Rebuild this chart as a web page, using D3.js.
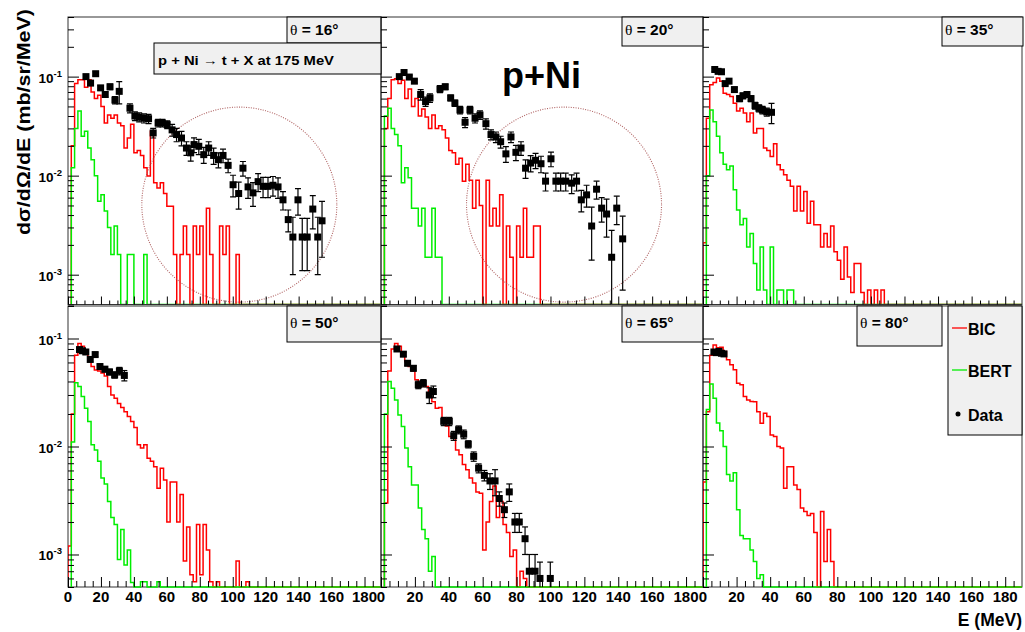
<!DOCTYPE html>
<html>
<head>
<meta charset="utf-8">
<script src="https://cdn.jsdelivr.net/npm/d3@7"></script>
<style>
  body { margin: 0; background: #fff; }
  text { font-family: "Liberation Sans", Arial, sans-serif; font-weight: bold; fill: #000; }
</style>
</head>
<body>
<svg id="chart" width="1025" height="632"></svg>
<script>
// ---- values ----
// model histograms: 2 MeV bins starting at E = 0
const bic16 = [0, 0.02, 0.085, 0.093, 0.093, 0.078, 0.093, 0.07, 0.06, 0.065, 0.05, 0.034, 0.041, 0.038, 0.041, 0.034,
  0.032, 0.019, 0.024, 0.033, 0.017, 0.018, 0.016, 0.012, 0.0099, 0.028, 0.0085, 0.0075, 0.0085, 0.0066, 0.0049, 0.0049,
  0.0016, 0, 0.0016, 0.0031, 0.0016, 0, 0.0031, 0.0016, 0.0031, 0, 0.0047, 0.0016, 0, 0, 0.0031, 0.0016, 0.0031, 0, 0, 0.0016];
const bert16 = [0, 0.012, 0.03, 0.045, 0.025, 0.028, 0.019, 0.0145, 0.01, 0.0055, 0.0064, 0.0044, 0.003, 0.0016, 0.0031,
  0.0016, 0, 0, 0.0016, 0.0016, 0, 0, 0, 0.0016];
const bic20 = [0, 0.03, 0.06, 0.093, 0.095, 0.085, 0.092, 0.06, 0.075, 0.05, 0.06, 0.04, 0.047, 0.039, 0.03, 0.041,
  0.03, 0.032, 0.029, 0.024, 0.018, 0.017, 0.013, 0.015, 0.0088, 0.013, 0.009, 0.0047, 0.009, 0.005, 0, 0.009,
  0.0031, 0.0047, 0.0031, 0.0064, 0, 0.0031, 0.0015, 0, 0.0031, 0.0015, 0.0047, 0.0015, 0.0015, 0.0031, 0.0031];
const bert20 = [0, 0.04, 0.048, 0.03, 0.026, 0.02, 0.0085, 0.012, 0.0095, 0.0047, 0.0047, 0.0031, 0.0047, 0.0015,
  0.0015, 0.0047, 0.0015, 0.0015];
const bic35 = [0.0021, 0.038, 0.083, 0.087, 0.097, 0.09, 0.068, 0.066, 0.063, 0.054, 0.045, 0.048, 0.043, 0.035, 0.043,
  0.027, 0.03, 0.03, 0.019, 0.018, 0.0156, 0.021, 0.0129, 0.0115, 0.0102, 0.009, 0.0078, 0.0044, 0.0078, 0.0044, 0.0069,
  0.0033, 0.0055, 0.0032, 0.0032, 0.0019, 0.0026, 0.0019, 0.0031, 0.0017, 0.0014, 0.0009, 0.0019, 0.00095, 0.00066,
  0.0013, 0.0013, 0.00066, 0, 0.0007, 0, 0.0007, 0, 0.0007];
const bert35 = [0, 0.01, 0.046, 0.035, 0.025, 0.017, 0.013, 0.0115, 0.0125, 0.0072, 0.0045, 0.0032, 0.0037, 0.0019,
  0.0026, 0.0013, 0.0007, 0.0019, 0.0007, 0, 0.0019, 0, 0.0007, 0.0007, 0, 0.0007, 0.0007];
const bic50 = [0.0012, 0.02, 0.07, 0.09, 0.085, 0.073, 0.062, 0.055, 0.051, 0.05, 0.048, 0.045, 0.036, 0.03, 0.028,
  0.025, 0.023, 0.021, 0.019, 0.017, 0.015, 0.0104, 0.0097, 0.0104, 0.0078, 0.0073, 0.0065, 0.0041, 0.0063, 0.0049,
  0.002, 0.0047, 0.0047, 0.002, 0.0036, 0.00087, 0.0018, 0.00065, 0.00056, 0.0019, 0.00065, 0.0019, 0.0011, 0.00056,
  0, 0.00056, 0, 0, 0, 0, 0, 0.00087, 0, 0, 0.00056];
const bert50 = [0, 0.011, 0.039, 0.036, 0.029, 0.0226, 0.017, 0.0104, 0.0093, 0.0073, 0.0051, 0.0045, 0.0031, 0.0022,
  0.0019, 0.0009, 0.0017, 0.0008, 0.0011, 0.00055, 0, 0, 0.00056, 0.00056, 0, 0, 0, 0.00056];
const bic65 = [0, 0.003, 0.05, 0.08, 0.09, 0.085, 0.07, 0.061, 0.055, 0.05, 0.0414, 0.036, 0.038, 0.036, 0.029, 0.026,
  0.0226, 0.023, 0.017, 0.0155, 0.0124, 0.0124, 0.0093, 0.0084, 0.0068, 0.0061, 0.0051, 0.0046, 0.0038, 0.0037,
  0.0011, 0.002, 0.0031, 0.0043, 0.0022, 0.0031, 0.0019, 0.0016, 0.00096, 0.0011, 0, 0.0007, 0.0006];
const bert65 = [0, 0.02, 0.04, 0.0347, 0.027, 0.0196, 0.0153, 0.0097, 0.0065, 0.0044, 0.0044, 0.0027, 0.0017, 0.0014,
  0.0007, 0.00096];
const bic80 = [0.0047, 0.021, 0.07, 0.087, 0.082, 0.083, 0.0758, 0.0635, 0.057, 0.0513, 0.0386, 0.0373, 0.029, 0.027,
  0.0261, 0.026, 0.021, 0.0164, 0.0203, 0.019, 0.0128, 0.0124, 0.01, 0.0097, 0.0041, 0.0065, 0.0065, 0.0044, 0.004,
  0.0027, 0.0025, 0.0023, 0.0024, 0.0016, 0, 0.0025, 0.00086, 0.0017, 0.00086];
const bert80 = [0, 0.022, 0.038, 0.028, 0.0165, 0.014, 0.01, 0.0055, 0.0048, 0.0057, 0.0026, 0.0015, 0.0014, 0.0014,
  0.0011, 0.00086, 0.0006, 0.00065];

// measured points: energy (MeV), cross section, error
const e16 = [10.9, 13.7, 16.8, 19.8, 22.6, 25.5, 28.5, 31.1, 37.6, 40.6, 43.2, 46.1, 48.9, 51.7, 54.7, 57.3, 60.2, 63.2,
  65.9, 68.9, 71.9, 74.5, 76.5, 79.4, 82.4, 85.4, 88.4, 91.3, 94.1, 97.2, 100.2, 103.6, 106.2, 109.3, 112.3, 115.4,
  118.4, 121.4, 124.4, 127.5, 130.5, 133.7, 136.5, 139.6, 142.2, 145.2, 148.6, 151.6, 154.2];
const v16 = [0.1, 0.086, 0.107, 0.077, 0.066, 0.079, 0.058, 0.071, 0.048, 0.04, 0.039, 0.038, 0.0376, 0.027, 0.034,
  0.034, 0.0328, 0.029, 0.026, 0.024, 0.019, 0.017, 0.0206, 0.0198, 0.0163, 0.019, 0.016, 0.0145, 0.016, 0.0127, 0.0081,
  0.0066, 0.0119, 0.0077, 0.0067, 0.0087, 0.0078, 0.0078, 0.008, 0.0077, 0.0057, 0.0036, 0.0024, 0.0057, 0.0024, 0.0024,
  0.0046, 0.0024, 0.0035];
const err16 = [0.004, 0.004, 0.005, 0.004, 0.004, 0.005, 0.005, 0.018, 0.005, 0.004, 0.004, 0.004, 0.004, 0.003, 0.003,
  0.003, 0.003, 0.004, 0.004, 0.004, 0.003, 0.003, 0.0035, 0.0035, 0.003, 0.003, 0.003, 0.0025, 0.0025, 0.002, 0.002,
  0.002, 0.002, 0.0018, 0.0018, 0.0018, 0.0018, 0.0018, 0.0018, 0.0018, 0.0012, 0.0009, 0.0014, 0.0017, 0.0013, 0.0013,
  0.0017, 0.0014, 0.002];
const e20 = [10.8, 13.6, 16.7, 19.7, 23.4, 26.3, 28.9, 34.8, 37.9, 41.1, 43.6, 46.6, 49.6, 52.5, 55.5, 58.4, 61.9, 64.9,
  67.8, 70.6, 73.7, 76.7, 79.6, 82.6, 85.3, 88.3, 91.2, 94.4, 97.1, 100.3, 103.2, 106, 109, 112.5, 115.4, 118.2, 121.3,
  124.3, 127.2, 130.2, 133.1, 136.1, 139.1, 142.6];
const v20 = [0.1, 0.11, 0.099, 0.09, 0.066, 0.056, 0.061, 0.075, 0.079, 0.061, 0.054, 0.046, 0.0346, 0.046, 0.038,
  0.041, 0.0335, 0.026, 0.0246, 0.022, 0.0166, 0.0246, 0.0172, 0.019, 0.0119, 0.0134, 0.0143, 0.0132, 0.0088, 0.0148,
  0.0088, 0.0088, 0.0088, 0.0084, 0.0088, 0.0057, 0.0064, 0.0031, 0.0073, 0.0047, 0.0041, 0.0015, 0.0047, 0.0023];
const err20 = [0.004, 0.004, 0.004, 0.004, 0.008, 0.006, 0.006, 0.006, 0.005, 0.004, 0.004, 0.004, 0.004, 0.004, 0.004,
  0.004, 0.004, 0.003, 0.003, 0.003, 0.003, 0.003, 0.003, 0.003, 0.0025, 0.0025, 0.0025, 0.0025, 0.0018, 0.0025, 0.0018,
  0.0018, 0.0018, 0.0018, 0.0018, 0.0014, 0.0016, 0.0017, 0.0015, 0.0013, 0.0017, 0.0013, 0.0015, 0.0016];
const e35 = [7, 9, 11, 13.2, 15.5, 18.7, 21.8, 23.8, 26.2, 28.6, 31, 33.3, 35.4, 38, 40.8];
const v35 = [0.118, 0.113, 0.112, 0.085, 0.09, 0.074, 0.06, 0.064, 0.066, 0.06, 0.051, 0.048, 0.046, 0.044, 0.0436];
const err35 = [0.004, 0.004, 0.004, 0.004, 0.004, 0.004, 0.004, 0.004, 0.004, 0.004, 0.004, 0.004, 0.004, 0.004, 0.01];
const e50 = [7, 8.8, 10.8, 13.5, 16.5, 19.4, 22.4, 25.2, 28.3, 31.2, 34.2];
const v50 = [0.079, 0.077, 0.075, 0.064, 0.071, 0.055, 0.052, 0.049, 0.046, 0.05, 0.0455];
const err50 = [0.003, 0.003, 0.003, 0.003, 0.003, 0.003, 0.003, 0.003, 0.003, 0.004, 0.005];
const e65 = [9.4, 13.2, 15.7, 19.1, 22, 25, 28.5, 30.9, 37, 40.3, 42.9, 45.8, 48.8, 51.5, 54.7, 57.6, 61, 64.3, 67.3,
  69.8, 72.8, 75.7, 79, 81.6, 85, 87.5, 90.9, 93.8, 99.9];
const v65 = [0.08, 0.0716, 0.059, 0.053, 0.0373, 0.0386, 0.03, 0.0323, 0.0171, 0.0171, 0.0126, 0.0143, 0.013, 0.0105,
  0.0081, 0.0063, 0.0054, 0.0048, 0.0048, 0.0033, 0.0026, 0.0038, 0.002, 0.002, 0.0014, 0.0007, 0.0007, 0.0006, 0.0006];
const err65 = [0.003, 0.003, 0.003, 0.003, 0.003, 0.003, 0.005, 0.004, 0.0015, 0.0015, 0.0012, 0.0012, 0.0012, 0.0008,
  0.0008, 0.0006, 0.0006, 0.0008, 0.0013, 0.0005, 0.0004, 0.0007, 0.0004, 0.0004, 0.0004, 0.0003, 0.0003, 0.00025, 0.00025];
const e80 = [6.5, 8, 9.5, 11, 12.5];
const v80 = [0.075, 0.074, 0.076, 0.073, 0.072];
const err80 = [0.002, 0.002, 0.002, 0.002, 0.002];

const angles = [16, 20, 35, 50, 65, 80];
const xTickLabels = [0, 20, 40, 60, 80, 100, 120, 140, 160, 180];
const yDecades = [1e-3, 1e-2, 1e-1];
const yDecadeExp = ['-3', '-2', '-1'];
const legendNames = ['BIC', 'BERT', 'Data'];
const reaction = 'p + Ni \u2192 t + X at 175 MeV';
// dotted rings drawn on the first two panels, centre in (E, dσ/dΩ/dE)
const rings = [{panel: 0, e: 104, v: 0.0051}, {panel: 1, e: 108, v: 0.0051}];

// ---- layout ----
const binW = 2, eMax = 190;
const cols = [[68, 381], [381, 703], [703, 1022]];
const rows = [
  {top: 17, bottom: 304.5, domain: [5e-4, 0.4], major: 8, minor: 4},
  {top: 306, bottom: 587, domain: [5e-4, 0.2], major: 10, minor: 6}
];
const boxes = [[287, 17, 94, 26], [622, 17, 81, 29], [942, 17, 81, 29],
               [287, 306, 94, 36], [622, 306, 81, 36], [857, 306, 85, 40]];

const series = [
  {bic: bic16, bert: bert16, e: e16, v: v16, err: err16},
  {bic: bic20, bert: bert20, e: e20, v: v20, err: err20},
  {bic: bic35, bert: bert35, e: e35, v: v35, err: err35},
  {bic: bic50, bert: bert50, e: e50, v: v50, err: err50},
  {bic: bic65, bert: bert65, e: e65, v: v65, err: err65},
  {bic: bic80, bert: bert80, e: e80, v: v80, err: err80}
];

const svg = d3.select('#chart');
const defs = svg.append('defs');

function stepPoints(bins) {
  const first = bins.findIndex(v => v > 0);
  const pts = [[first * binW, 0]];
  for (let i = first; i < bins.length; i++) {
    pts.push([i * binW, bins[i]], [(i + 1) * binW, bins[i]]);
  }
  pts.push([bins.length * binW, 0], [eMax, 0]);
  return pts;
}

series.forEach((s, i) => {
  const row = rows[Math.floor(i / 3)];
  const col = cols[i % 3];
  const x = d3.scaleLinear().domain([0, eMax]).range(col);
  const y = d3.scaleLog().domain(row.domain).range([row.bottom, row.top]);
  const yPos = v => (v > row.domain[0] ? y(v) : row.bottom);
  const isTop = i < 3;

  defs.append('clipPath').attr('id', 'clip' + i)
    .append('rect').attr('x', col[0]).attr('y', row.top)
    .attr('width', col[1] - col[0]).attr('height', row.bottom - row.top + 1);

  const frame = () => svg.append('rect')
    .attr('x', col[0]).attr('y', row.top)
    .attr('width', col[1] - col[0]).attr('height', row.bottom - row.top)
    .attr('fill', 'none').attr('stroke', '#333').attr('stroke-width', 1);

  if (!isTop) frame();

  const g = svg.append('g').attr('clip-path', `url(#clip${i})`);
  const line = d3.line().x(d => x(d[0])).y(d => yPos(d[1]));

  g.append('path').attr('d', line(stepPoints(s.bic)))
    .attr('fill', 'none').attr('stroke', '#ff0000').attr('stroke-width', 1.5);
  g.append('path').attr('d', line(stepPoints(s.bert)))
    .attr('fill', 'none').attr('stroke', '#00ee00').attr('stroke-width', 1.5);

  rings.filter(r => r.panel === i).forEach(r => {
    g.append('circle').attr('cx', x(r.e)).attr('cy', y(r.v)).attr('r', 97.5)
      .attr('fill', 'none').attr('stroke', '#a34a4a').attr('stroke-width', 1.1)
      .attr('stroke-dasharray', '1,1.4').attr('opacity', 0.85);
  });

  const pts = s.e.map((e, k) => ({e, v: s.v[k], err: s.err[k]}));
  const bars = g.append('g').attr('stroke', '#000').attr('stroke-width', 1.2);
  pts.forEach(p => {
    const yHi = yPos(p.v + p.err), yLo = yPos(p.v - p.err), xc = x(p.e);
    bars.append('line').attr('x1', xc).attr('x2', xc).attr('y1', yHi).attr('y2', yLo);
    bars.append('line').attr('x1', xc - 3).attr('x2', xc + 3).attr('y1', yHi).attr('y2', yHi);
    if (p.v - p.err > row.domain[0]) {
      bars.append('line').attr('x1', xc - 3).attr('x2', xc + 3).attr('y1', yLo).attr('y2', yLo);
    }
  });
  g.append('g').selectAll('rect').data(pts).join('rect')
    .attr('x', d => x(d.e) - 3.5).attr('y', d => y(d.v) - 3.5)
    .attr('width', 7).attr('height', 7).attr('fill', '#000');

  if (isTop) frame();

  // y ticks, pointing into the frame
  const yMinor = [];
  [1e-4, 1e-3, 1e-2, 1e-1].forEach(d => { for (let m = 2; m <= 9; m++) yMinor.push(m * d); });
  const yMinorIn = yMinor.filter(v => v >= row.domain[0] && v <= row.domain[1]);
  svg.append('g').attr('transform', `translate(${col[0]},0)`)
    .call(d3.axisLeft(y).tickValues(yDecades).tickSize(-11).tickFormat(''))
    .call(a => a.select('.domain').remove());
  svg.append('g').attr('transform', `translate(${col[0]},0)`)
    .call(d3.axisLeft(y).tickValues(yMinorIn).tickSize(-6).tickFormat(''))
    .call(a => a.select('.domain').remove());

  // x ticks, pointing up into the frame
  const xMinor = d3.range(5, eMax, 5).filter(v => v % 20 !== 0);
  svg.append('g').attr('transform', `translate(0,${row.bottom})`)
    .call(d3.axisBottom(x).tickValues(xTickLabels).tickSize(-row.major).tickFormat(''))
    .call(a => a.select('.domain').remove());
  svg.append('g').attr('transform', `translate(0,${row.bottom})`)
    .call(d3.axisBottom(x).tickValues(xMinor).tickSize(-row.minor).tickFormat(''))
    .call(a => a.select('.domain').remove());

  if (!isTop) {
    svg.append('g').selectAll('text').data(xTickLabels).join('text')
      .attr('x', d => x(d)).attr('y', row.bottom + 15)
      .attr('text-anchor', 'middle').attr('font-size', 15).text(d => d);
  }

  if (i % 3 === 0) {
    const lab = svg.append('g').selectAll('text').data(yDecades).join('text')
      .attr('x', col[0] - 6).attr('y', d => y(d) + 6)
      .attr('text-anchor', 'end').attr('font-size', 13.5);
    lab.append('tspan').text('10');
    lab.append('tspan').attr('dy', -6).attr('font-size', 9.5).text((d, k) => yDecadeExp[k]);
  }

  // angle label box
  const b = boxes[i];
  svg.append('rect').attr('x', b[0]).attr('y', b[1]).attr('width', b[2]).attr('height', b[3])
    .attr('fill', '#f0f0f0').attr('stroke', '#000').attr('stroke-width', 1);
  const t = svg.append('text').attr('x', b[0] + 3).attr('y', b[1] + (isTop ? 18 : 22)).attr('font-size', 15.5);
  t.append('tspan').attr('font-family', '"Liberation Serif", serif').attr('font-weight', 'normal').text('\u03b8');
  t.append('tspan').text(` = ${angles[i]}\u00b0`);
});

// reaction box
svg.append('rect').attr('x', 154).attr('y', 43).attr('width', 227).attr('height', 31)
  .attr('fill', '#f0f0f0').attr('stroke', '#000').attr('stroke-width', 1);
svg.append('text').attr('x', 158).attr('y', 65).attr('font-size', 13.5)
  .attr('textLength', 176).attr('lengthAdjust', 'spacingAndGlyphs').text(reaction);

// big label
svg.append('text').attr('x', 502).attr('y', 88).attr('font-size', 36).text('p+Ni');

// y title
svg.append('text').attr('transform', 'translate(30,122) rotate(-90)')
  .attr('text-anchor', 'middle').attr('font-size', 19)
  .attr('textLength', 226).attr('lengthAdjust', 'spacingAndGlyphs')
  .text('d\u03c3/d\u03a9/dE (mb/sr/MeV)');

// x title
svg.append('text').attr('x', 1022).attr('y', 626).attr('text-anchor', 'end')
  .attr('font-size', 17.5).text('E (MeV)');

// legend
svg.append('rect').attr('x', 948).attr('y', 306).attr('width', 74).attr('height', 129)
  .attr('fill', '#f0f0f0').attr('stroke', '#000').attr('stroke-width', 1);
const legColors = ['#ff0000', '#00ee00', '#000'];
const leg = svg.append('g').selectAll('g').data(legendNames).join('g')
  .attr('transform', (d, k) => `translate(0,${[328, 370, 414][k]})`);
leg.filter((d, k) => k < 2).append('line')
  .attr('x1', 952).attr('x2', 967).attr('y1', 0).attr('y2', 0)
  .attr('stroke', (d, k) => legColors[k]).attr('stroke-width', 1.3);
leg.filter((d, k) => k === 2).append('circle').attr('cx', 958).attr('cy', 0).attr('r', 2.5).attr('fill', '#000');
leg.append('text').attr('x', 968).attr('y', 7).attr('font-size', 16).text(d => d);
</script>
</body>
</html>
